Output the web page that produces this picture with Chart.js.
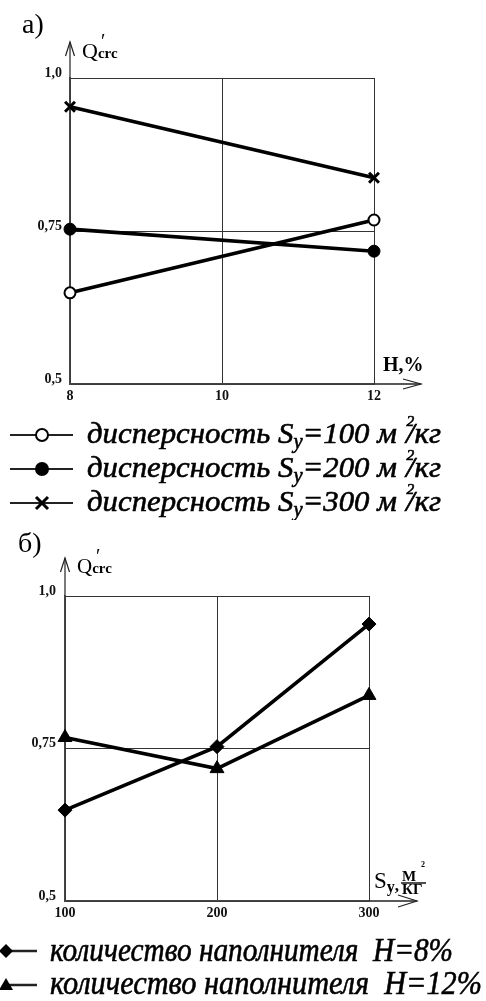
<!DOCTYPE html>
<html>
<head>
<meta charset="utf-8">
<script src="https://cdn.jsdelivr.net/npm/chart.js@4.4.1/dist/chart.umd.min.js"></script>
<style>
  html, body { margin: 0; padding: 0; background: #fff; }
  body { width: 486px; height: 1001px; position: relative; overflow: hidden; }
  canvas { position: absolute; left: 0; }
</style>
</head>
<body>
<canvas id="ca" width="486" height="520" style="top:0"></canvas>
<canvas id="cb" width="486" height="481" style="top:520px"></canvas>
<script>
// ---------- DATA ----------
const hPercent = [8, 12];                 // panel а) x values (H, %)
const qS100 = [0.649, 0.768];             // Sу = 100 м²/кг
const qS200 = [0.753, 0.717];             // Sу = 200 м²/кг
const qS300 = [0.953, 0.837];             // Sу = 300 м²/кг

const sValues = [100, 200, 300];          // panel б) x values (Sу, м²/кг)
const qH8  = [0.649, 0.753, 0.954];       // H = 8%
const qH12 = [0.768, 0.717, 0.837];       // H = 12%

const yTickValues = [0.5, 0.75, 1.0];
const yTickLabels = ['0,5', '0,75', '1,0'];
const xTickValuesA = [8, 10, 12];
const xTickLabelsA = ['8', '10', '12'];
const xTickValuesB = [100, 200, 300];
const xTickLabelsB = ['100', '200', '300'];

const panelLabelA = 'а)';
const panelLabelB = 'б)';
const legendA = ['100', '200', '300'];
const legendB = ['8%', '12%'];

// ---------- HELPERS ----------
const SERIF = '"Liberation Serif", "Times New Roman", serif';
const f = (style, size) => `${style} ${size}px ${SERIF}`;

function richText(ctx, segs, x, y, targetW, heavy) {
  ctx.save();
  ctx.textAlign = 'left';
  ctx.textBaseline = 'alphabetic';
  ctx.fillStyle = '#000';
  ctx.strokeStyle = '#000';
  ctx.lineWidth = heavy || 0;
  let total = 0;
  const ws = segs.map(s => { ctx.font = s.f; const w = ctx.measureText(s.t).width + (s.dx || 0); total += w; return w; });
  const sx = targetW ? targetW / total : 1;
  ctx.translate(x, y);
  ctx.scale(sx, 1);
  let cx = 0;
  segs.forEach((s, i) => {
    ctx.font = s.f;
    cx += (s.dx || 0);
    ctx.fillText(s.t, cx, s.dy || 0);
    if (heavy) ctx.strokeText(s.t, cx, s.dy || 0);
    cx += ws[i] - (s.dx || 0);
  });
  ctx.restore();
}

function line(ctx, pts, lw) {
  ctx.save();
  ctx.strokeStyle = '#222';
  ctx.lineWidth = lw;
  ctx.beginPath();
  pts.forEach((p, i) => i ? ctx.lineTo(p[0], p[1]) : ctx.moveTo(p[0], p[1]));
  ctx.stroke();
  ctx.restore();
}

function marker(ctx, style, x, y) {
  ctx.save();
  ctx.fillStyle = '#000';
  ctx.strokeStyle = '#000';
  ctx.beginPath();
  if (style === 'open') {
    ctx.fillStyle = '#fff'; ctx.lineWidth = 2;
    ctx.arc(x, y, 6, 0, Math.PI * 2); ctx.fill(); ctx.stroke();
  } else if (style === 'dot') {
    ctx.arc(x, y, 7, 0, Math.PI * 2); ctx.fill();
  } else if (style === 'cross') {
    ctx.lineWidth = 3;
    ctx.moveTo(x - 6, y - 6); ctx.lineTo(x + 6, y + 6);
    ctx.moveTo(x + 6, y - 6); ctx.lineTo(x - 6, y + 6); ctx.stroke();
  } else if (style === 'diamond') {
    ctx.moveTo(x - 7, y); ctx.lineTo(x, y - 7); ctx.lineTo(x + 7, y); ctx.lineTo(x, y + 7); ctx.closePath(); ctx.fill();
  } else if (style === 'tri') {
    ctx.moveTo(x, y - 7); ctx.lineTo(x + 7, y + 5); ctx.lineTo(x - 7, y + 5); ctx.closePath(); ctx.fill();
  }
  ctx.restore();
}

function pts(xs, ys) { return xs.map((x, i) => ({ x, y: ys[i] })); }

function ds(label, data, style, radius, bg, bw) {
  return {
    label, data, borderColor: '#000', borderWidth: 3.6, tension: 0, clip: false,
    pointStyle: style, pointRadius: radius, pointBackgroundColor: bg,
    pointBorderColor: '#000', pointBorderWidth: bw
  };
}

function scales(xVals, xLabels, xMin, xMax, yPad) {
  return {
    x: {
      type: 'linear', min: xMin, max: xMax,
      afterBuildTicks: s => { s.ticks = xVals.map(v => ({ value: v })); },
      afterFit: s => { s.height = 20; },
      ticks: {
        padding: 4, color: '#111', maxRotation: 0,
        font: { family: SERIF, size: 14, weight: 'bold' },
        callback: v => xLabels[xVals.indexOf(v)]
      },
      grid: { color: '#333', lineWidth: 1, drawTicks: false },
      border: { color: '#444', width: 1.5 }
    },
    y: {
      type: 'linear', min: 0.5, max: 1.0,
      afterBuildTicks: s => { s.ticks = yTickValues.map(v => ({ value: v })); },
      afterFit: s => { s.width = 60; },
      ticks: {
        padding: yPad, labelOffset: -5, color: '#111',
        font: { family: SERIF, size: 14, weight: 'bold' },
        callback: v => yTickLabels[yTickValues.indexOf(v)]
      },
      grid: { color: '#333', lineWidth: 1, drawTicks: false },
      border: { color: '#444', width: 1.5 }
    }
  };
}

function qLabel(ctx, x, y, size) {
  richText(ctx, [
    { t: 'Q', f: f('normal', size) },
    { t: 'crc', f: f('bold', Math.round(size * 0.7)) }
  ], x, y);
  richText(ctx, [{ t: '′', f: f('normal', 20) }], x + 19, y - 10);
}

// ---------- PANEL а) ----------
const annotA = {
  id: 'annotA',
  afterDraw(chart) {
    const ctx = chart.ctx, a = chart.chartArea;
    richText(ctx, [{ t: panelLabelA, f: f('normal', 28) }], 22, 33);
    // y arrow
    line(ctx, [[a.left, a.top], [a.left, 42]], 1.2);
    line(ctx, [[a.left - 4.5, 56], [a.left, 42], [a.left + 4.5, 56]], 1.2);
    qLabel(ctx, 82, 58, 22);
    // x arrow
    line(ctx, [[a.right, a.bottom], [421, a.bottom]], 1.5);
    line(ctx, [[403, a.bottom - 5], [421, a.bottom], [403, a.bottom + 5]], 1.2);
    richText(ctx, [{ t: 'H,%', f: f('bold', 20) }], 383, 371);
    // legend
    const styles = ['open', 'dot', 'cross'];
    const lineY = [435, 469, 503];
    const baseY = [443, 477, 511];
    legendA.forEach((v, i) => {
      line(ctx, [[10, lineY[i]], [73, lineY[i]]], 2);
      marker(ctx, styles[i], 42, lineY[i]);
      richText(ctx, [
        { t: 'дисперсность S', f: f('italic', 30) },
        { t: 'у', f: f('italic', 20), dy: 5 },
        { t: '=' + v + ' м ', f: f('italic', 30) },
        { t: '2', f: f('italic', 15), dy: -17, dx: 2 },
        { t: '/кг', f: f('italic', 30), dx: -8 }
      ], 87, baseY[i], 354, 0.6);
    });
  }
};

new Chart(document.getElementById('ca'), {
  type: 'line',
  data: {
    datasets: [
      ds('дисперсность Sу=100 м²/кг', pts(hPercent, qS100), 'circle', 5.5, '#fff', 2),
      ds('дисперсность Sу=200 м²/кг', pts(hPercent, qS200), 'circle', 6, '#000', 1),
      ds('дисперсность Sу=300 м²/кг', pts(hPercent, qS300), 'crossRot', 7, '#000', 3)
    ]
  },
  options: {
    responsive: false, animation: false, events: [],
    layout: { padding: { left: 10, top: 78, right: 112, bottom: 116 } },
    plugins: { legend: { display: false }, tooltip: { enabled: false } },
    scales: scales(xTickValuesA, xTickLabelsA, 8, 12, 8)
  },
  plugins: [annotA]
});

// ---------- PANEL б) ----------
const annotB = {
  id: 'annotB',
  afterDraw(chart) {
    const ctx = chart.ctx, a = chart.chartArea;
    richText(ctx, [{ t: panelLabelB, f: f('normal', 28) }], 18, 32);
    // y arrow
    line(ctx, [[a.left, a.top], [a.left, 38]], 1.2);
    line(ctx, [[a.left - 4.5, 52], [a.left, 38], [a.left + 4.5, 52]], 1.2);
    qLabel(ctx, 77, 53, 21);
    // x arrow
    line(ctx, [[a.right, a.bottom], [417, a.bottom]], 1.5);
    line(ctx, [[398, a.bottom - 6], [417, a.bottom], [398, a.bottom + 6]], 1.2);
    // x label  Sу, м²/кг
    richText(ctx, [{ t: 'S', f: f('normal', 23) }, { t: 'у', f: f('bold', 16), dy: 4 }, { t: ',', f: f('bold', 17), dy: 3 }], 374, 368);
    richText(ctx, [{ t: 'М', f: f('bold', 15) }], 402, 361);
    richText(ctx, [{ t: '2', f: f('bold', 8) }], 421, 347);
    line(ctx, [[401, 363], [426, 363]], 1.6);
    richText(ctx, [{ t: 'КГ', f: f('bold', 15) }], 402, 374);
    // legend
    const styles = ['diamond', 'tri'];
    const lineY = [431, 465];
    const baseY = [441, 474];
    const widths = [403, 432];
    legendB.forEach((v, i) => {
      line(ctx, [[5, lineY[i]], [37, lineY[i]]], 2.5);
      marker(ctx, styles[i], 6, lineY[i]);
      richText(ctx, [{ t: 'количество наполнителя  H=' + v, f: f('italic', 34) }], 50, baseY[i], widths[i], 0.6);
    });
  }
};

new Chart(document.getElementById('cb'), {
  type: 'line',
  data: {
    datasets: [
      ds('количество наполнителя H=8%', pts(sValues, qH8), 'rectRot', 7, '#000', 1),
      ds('количество наполнителя H=12%', pts(sValues, qH12), 'triangle', 8, '#000', 1)
    ]
  },
  options: {
    responsive: false, animation: false, events: [],
    layout: { padding: { left: 5, top: 76, right: 117, bottom: 80 } },
    plugins: { legend: { display: false }, tooltip: { enabled: false } },
    scales: scales(xTickValuesB, xTickLabelsB, 100, 300, 9)
  },
  plugins: [annotB]
});
</script>
</body>
</html>
